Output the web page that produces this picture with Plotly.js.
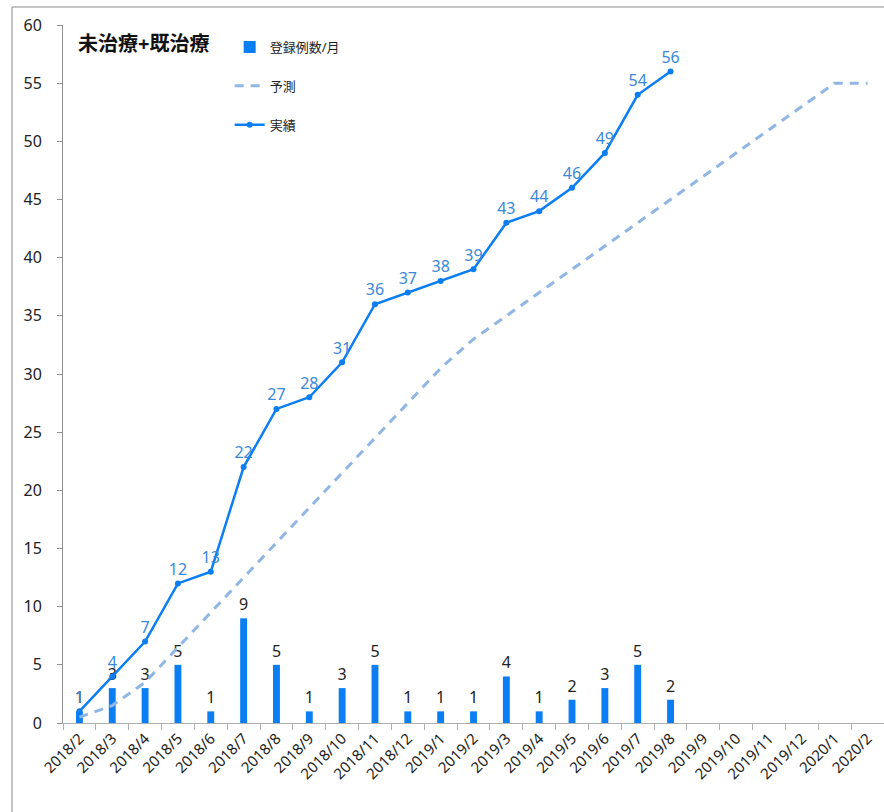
<!DOCTYPE html>
<html>
<head>
<meta charset="utf-8">
<script src="https://cdn.plot.ly/plotly-3.0.1.min.js"></script>
<style>
html,body{margin:0;padding:0;background:#fff;}
#chart{width:884px;height:812px;}
</style>
</head>
<body>
<div id="chart"></div>
<script>
// Categories (months)
const months = ["2018/2","2018/3","2018/4","2018/5","2018/6","2018/7","2018/8","2018/9","2018/10","2018/11","2018/12","2019/1","2019/2","2019/3","2019/4","2019/5","2019/6","2019/7","2019/8","2019/9","2019/10","2019/11","2019/12","2020/1","2020/2"];
// Monthly registrations (bars)
const monthlyMonths = months.slice(0, 19);
const monthlyCounts = [1,3,3,5,1,9,5,1,3,5,1,1,1,4,1,2,3,5,2];
// Forecast cumulative (dashed)
const forecast = [0.5,1.5,3.5,6.5,9.5,12.5,15.5,18.5,21.5,24.5,27.5,30.5,33,35,37,39,41,43,45,47,49,51,53,55,55];
// Actual cumulative (line)
const actualMonths = months.slice(0, 19);
const actual = [1,4,7,12,13,22,27,28,31,36,37,38,39,43,44,46,49,54,56];

const FONT = "'Noto Sans', 'Noto Sans CJK JP', sans-serif";

const traces = [
  {
    type: 'bar', name: '登録例数/月', x: monthlyMonths, y: monthlyCounts,
    marker: {color: '#0a7ef2'},
    text: monthlyCounts.map(String), textposition: 'outside',
    constraintext: 'none',
    textfont: {family: FONT, size: 16, color: '#222222'},
    outsidetextfont: {family: FONT, size: 16, color: '#222222'},
    cliponaxis: false, legendgroup: 'a'
  },
  {
    type: 'scatter', mode: 'lines', name: '予測', x: months, y: forecast,
    line: {color: '#8fb6e4', width: 3, dash: '9px,7px'},
    legendgroup: 'b', hoverinfo: 'skip'
  },
  {
    type: 'scatter', mode: 'lines+markers+text', name: '実績', x: actualMonths, y: actual,
    line: {color: '#0a7ef2', width: 2.5},
    marker: {color: '#0a7ef2', size: 6},
    text: actual.map(String), textposition: 'top center',
    textfont: {family: FONT, size: 16, color: '#3a88da'},
    cliponaxis: false, legendgroup: 'c'
  }
];

const layout = {
  width: 884, height: 812,
  margin: {l: 63, r: 0, t: 25, b: 89},
  paper_bgcolor: '#fff', plot_bgcolor: '#fff',
  font: {family: FONT, size: 14, color: '#222'},
  bargap: 0.79,
  showlegend: true,
  legend: {
    x: 0.203, y: 0.99, xanchor: 'left', yanchor: 'top',
    traceorder: 'grouped', tracegroupgap: 19,
    font: {family: FONT, size: 13, color: '#222'},
    bgcolor: 'rgba(0,0,0,0)', itemwidth: 30
  },
  xaxis: {
    type: 'category', categoryorder: 'array', categoryarray: months,
    range: [-0.5, 24.5],
    showline: true, linecolor: '#b0b0b0', linewidth: 1,
    ticks: 'outside', tickson: 'boundaries', ticklen: 6, tickcolor: '#b0b0b0',
    tickangle: -45, showgrid: false, zeroline: false,
    tickfont: {family: FONT, size: 15, color: '#222'}
  },
  yaxis: {
    range: [0, 60], dtick: 5, tick0: 0,
    showline: true, linecolor: '#909090', linewidth: 1,
    ticks: 'outside', ticklen: 5, tickcolor: '#909090',
    ticklabelstandoff: 12,
    showgrid: false, zeroline: false,
    tickfont: {family: FONT, size: 16, color: '#222'}
  },
  annotations: [
    {text: '<b>未治療+既治療</b>', xref: 'paper', yref: 'paper',
     x: 0.0158, y: 0.973, xanchor: 'left', yanchor: 'middle', showarrow: false,
     font: {family: FONT, size: 20, color: '#111'}}
  ],
  shapes: [
    {type: 'line', xref: 'paper', yref: 'paper', x0: -0.0621, x1: -0.0621, y0: -0.2, y1: 1.0258,
     line: {color: '#8a8a8a', width: 1}},
    {type: 'line', xref: 'paper', yref: 'paper', x0: -0.0621, x1: 1.01, y0: 1.0258, y1: 1.0258,
     line: {color: '#8a8a8a', width: 1}}
  ]
};

Plotly.newPlot('chart', traces, layout, {displayModeBar: false, staticPlot: true});
</script>
</body>
</html>
